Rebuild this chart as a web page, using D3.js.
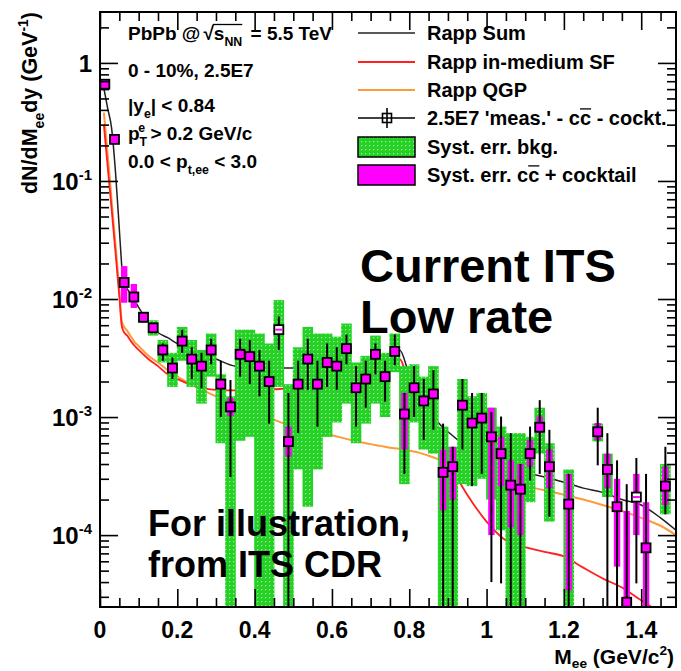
<!DOCTYPE html>
<html>
<head>
<meta charset="UTF-8" />
<style>
body { margin:0; background:#fff; }
text { font-family: "Liberation Sans", Arial, Helvetica, sans-serif; }
</style>
</head>
<body>
<script src="https://d3js.org/d3.v7.min.js" charset="utf-8"></script>
<script>
var width = 681;
var height = 671;

// measured points: bin centre, value, stat. error, bkg syst., cc+cocktail syst.
var mass = [0.0125,0.0375,0.0625,0.0875,0.1125,0.1375,0.1625,0.1875,0.2125,0.2375,
            0.2625,0.2875,0.3125,0.3375,0.3625,0.3875,0.4125,0.4375,0.4625,0.4875,
            0.5125,0.5375,0.5625,0.5875,0.6125,0.6375,0.6625,0.6875,0.7125,0.7375,
            0.7625,0.7875,0.8125,0.8375,0.8625,0.8875,0.9125,0.9375,0.9625,0.9875,
            1.0125,1.0375,1.0625,1.0875,1.1125,1.1375,1.1625,1.2125,1.2875,1.3125,
            1.3375,1.3625,1.3875,1.4125,1.4625];
var meas = [0.66,0.225,0.0138,0.0104,0.0070,0.0057,0.0037,0.0026,0.0044,0.0031,
            0.0027,0.0037,0.0019,0.00122,0.0034,0.00325,0.0027,0.0020,0.0055,0.00062,
            0.0019,0.0031,0.0019,0.0029,0.0027,0.0038,0.00177,0.0021,0.0034,0.0022,
            0.0036,0.00106,0.00177,0.00137,0.00157,0.00034,0.00038,0.00126,0.00089,0.00098,
            0.00068,0.00049,0.000265,0.000245,0.00049,0.00082,0.00038,0.000183,0.00075,0.00036,
            0.000174,0.000027,0.00021,0.000078,0.00026];
var statLo = [0.63,0.215,0.0128,0.0097,0.0065,0.0052,0.0030,0.0021,0.0035,0.0021,
              0.00175,0.0028,0.0010,0.00031,0.0022,0.0019,0.0015,0.00088,0.0037,0.00001,
              0.00073,0.0017,0.00083,0.0018,0.0017,0.0028,0.00083,0.0012,0.0023,0.00135,
              0.00275,0.00033,0.0010,0.00064,0.00078,0.00001,0.00001,0.00053,0.00026,0.00033,
              0.00004,0.000039,0.00001,0.00001,0.00029,0.00033,0.000143,0.00001,0.00039,0.00001,
              0.00001,0.00001,0.000039,0.00001,0.00015];
var statHi = [0.69,0.235,0.0148,0.0111,0.0075,0.0062,0.0042,0.0032,0.0055,0.0039,
              0.0035,0.0046,0.0030,0.00206,0.0046,0.0045,0.0037,0.0030,0.0071,0.0016,
              0.0030,0.0046,0.0030,0.0042,0.0039,0.0050,0.0027,0.0030,0.0042,0.0030,
              0.0050,0.0016,0.0027,0.0021,0.0025,0.00088,0.00056,0.0021,0.0016,0.0016,
              0.0011,0.00101,0.00073,0.00040,0.00083,0.00139,0.00078,0.00033,0.0012,0.00073,
              0.00043,0.00027,0.00045,0.00033,0.00056];
var bkgLo = [null,null,null,null,0.0063,0.0049,0.0029,0.0018,0.0030,0.0018,
             0.0013,0.0022,0.0006,0.00001,0.00063,0.00068,0.00001,0.00001,0.0018,0.00001,
             0.00036,0.000174,0.00036,0.00068,0.0009,0.0013,0.0006,0.00088,0.0013,0.0010,
             0.0024,0.00027,0.0009,0.00053,0.00049,0.00001,0.00001,0.00027,0.00026,0.0003,
             0.0002,0.00011,0.00001,0.00001,0.00019,0.00049,0.00013,0.00001,0.00062,0.00021,
             null,null,null,null,0.00015];
var bkgHi = [null,null,null,null,0.0078,0.0066,0.0045,0.0035,0.0058,0.0045,
             0.0037,0.0051,0.0023,0.0015,0.0055,0.0055,0.0051,0.0042,0.0098,0.0019,
             0.0039,0.0058,0.0051,0.0051,0.0048,0.0062,0.0029,0.0033,0.0049,0.0035,
             0.0051,0.0027,0.0028,0.0022,0.0027,0.00083,0.00056,0.0021,0.0015,0.0016,
             0.0012,0.00083,0.00073,0.00073,0.00068,0.0012,0.00060,0.00036,0.00088,0.00049,
             null,null,null,null,0.00040];
var sysLo = [null,null,0.0093,0.0084,null,null,null,null,null,null,
             null,null,null,0.00102,null,null,null,null,0.0054,0.00046,
             null,null,null,null,null,null,null,null,null,null,
             null,0.00053,null,null,null,0.000162,0.0002,null,null,null,
             0.0001,0.00026,0.000117,0.0001,0.00038,0.00073,0.00025,0.000034,0.00064,0.00025,
             0.000054,0.00001,0.0001,0.00001,0.00018];
var sysHi = [null,null,0.019,0.0134,null,null,null,null,null,null,
             null,null,null,0.00145,null,null,null,null,0.0056,0.00083,
             null,null,null,null,null,null,null,null,null,null,
             null,0.0016,null,null,null,0.00053,0.00056,null,null,null,
             0.0012,0.00068,0.00043,0.0004,0.00064,0.00101,0.00053,0.00033,0.00089,0.00049,
             0.0003,0.00016,0.00033,0.00019,0.00038];
var openMarker = [0.4625, 1.3875];

// Rapp model curves
var curveMass = [0.01,0.02,0.03,0.04,0.05,0.056,0.06,0.07,0.08,0.09,0.1,0.125,0.15,0.175,0.2,
                 0.25,0.3,0.35,0.4,0.45,0.5,0.55,0.6,0.65,0.7,0.725,0.75,0.775,0.8,0.825,
                 0.85,0.875,0.9,0.95,1.0,1.05,1.1,1.15,1.2,1.25,1.3,1.35,1.4,1.45,1.49];
var rappSum = [0.61,0.41,0.28,0.12,0.039,0.0195,0.0135,0.0122,0.011,0.0097,0.0085,0.0064,0.0052,0.0047,0.0042,
               0.0036,0.0031,0.0027,0.00265,0.0026,0.0026,0.0026,0.0026,0.0026,0.0027,0.0029,0.0033,0.0037,0.0023,0.0016,
               0.0012,0.0009,0.00075,0.00056,0.00045,0.00039,0.00034,0.00031,0.00028,0.00025,0.00023,0.0002,0.00018,0.00014,0.00011];
var rappSF = [0.3,0.13,0.058,0.025,0.0105,0.006,0.0054,0.0049,0.0044,0.0040,0.0037,0.0031,0.0027,0.0023,0.0021,
              0.0018,0.0017,0.00168,0.0017,0.00172,0.00176,0.0018,0.0019,0.002,0.0021,0.0023,0.0027,0.0031,0.0018,0.0011,
              0.00075,0.0006,0.00042,0.00022,0.00013,0.00009,0.000079,0.000072,0.000066,0.000053,0.000043,0.000036,0.000028,0.000022,0.000018];
var rappQGP = [0.38,0.166,0.069,0.029,0.012,0.0066,0.0060,0.0054,0.0048,0.0043,0.0040,0.0033,0.0029,0.0025,0.0022,
               0.0018,0.0015,0.0013,0.0011,0.00095,0.00083,0.00076,0.0007,0.00064,0.00059,0.00057,0.00055,0.00054,0.00052,0.0005,
               0.00047,0.00044,0.00041,0.00036,0.00032,0.00029,0.00026,0.00024,0.00022,0.0002,0.00018,0.00016,0.00014,0.00012,0.0001];

var xTicks = [0, 0.2, 0.4, 0.6, 0.8, 1, 1.2, 1.4];
var xTickLabels = ["0", "0.2", "0.4", "0.6", "0.8", "1", "1.2", "1.4"];
var yTicks = [1, 1e-1, 1e-2, 1e-3, 1e-4];
var yTickExp = [null, "-1", "-2", "-3", "-4"];

var svg = d3.select("body")
			.append("svg")
			.attr("width", width)
			.attr("height", height);

var x = d3.scaleLinear().domain([0, 1.49]).range([100, 676]);
var y = d3.scaleLog().domain([2.46e-5, 2.7]).range([607, 12]);

var defs = svg.append("defs");
defs.append("clipPath").attr("id", "frame")
	.append("rect").attr("x", 100).attr("y", 12).attr("width", 576).attr("height", 595);
var pat = defs.append("pattern").attr("id", "green").attr("width", 4).attr("height", 4)
	.attr("patternUnits", "userSpaceOnUse");
pat.append("rect").attr("width", 4).attr("height", 4).attr("fill", "#26d126");
pat.append("rect").attr("x", 1).attr("y", 1).attr("width", 1.2).attr("height", 1.2).attr("fill", "#a8f0a8");

var pts = mass.map(function(m, i){
	return {m: m, v: meas[i], sl: statLo[i], sh: statHi[i],
	        bl: bkgLo[i], bh: bkgHi[i], yl: sysLo[i], yh: sysHi[i],
	        open: openMarker.indexOf(m) >= 0};
});

var plot = svg.append("g").attr("clip-path", "url(#frame)");

// model curves (drawn under the data)
var curves = [
	{vals: rappQGP, color: "#ff9a3c", w: 2},
	{vals: rappSF, color: "#ff2020", w: 1.8},
	{vals: rappSum, color: "#202020", w: 1.5}
];
curves.forEach(function(c){
	var line = d3.line()
		.x((d, i) => x(curveMass[i]))
		.y(d => y(d))
		.curve(d3.curveMonotoneX);
	plot.append("path")
		.attr("d", line(c.vals))
		.attr("fill", "none")
		.attr("stroke", c.color)
		.attr("stroke-width", c.w);
});

// bkg systematic bands
plot.append("g").selectAll("rect")
	.data(pts.filter(d => d.bl !== null))
	.enter().append("rect")
	.attr("x", d => x(d.m) - 5.3)
	.attr("width", 10.6)
	.attr("y", d => y(d.bh))
	.attr("height", d => y(d.bl) - y(d.bh))
	.attr("fill", "url(#green)");

// cc + cocktail systematic bands
plot.append("g").selectAll("rect")
	.data(pts.filter(d => d.yl !== null))
	.enter().append("rect")
	.attr("x", d => x(d.m) - 3.2)
	.attr("width", 6.4)
	.attr("y", d => y(d.yh))
	.attr("height", d => Math.max(1.5, y(d.yl) - y(d.yh)))
	.attr("fill", "#ff00ff");

// statistical errors
plot.append("g").selectAll("line")
	.data(pts)
	.enter().append("line")
	.attr("x1", d => x(d.m)).attr("x2", d => x(d.m))
	.attr("y1", d => y(d.sl)).attr("y2", d => y(d.sh))
	.attr("stroke", "#000").attr("stroke-width", 2);

// markers
var mk = plot.append("g").selectAll("g")
	.data(pts)
	.enter().append("g")
	.attr("transform", d => "translate(" + x(d.m) + "," + y(d.v) + ")");
mk.append("rect")
	.attr("x", -4.5).attr("y", -4.5).attr("width", 9).attr("height", 9)
	.attr("fill", d => d.open ? "#fff" : "#ff00ff")
	.attr("stroke", "#000").attr("stroke-width", 1.8);
mk.filter(d => d.open).append("line")
	.attr("x1", -3.5).attr("x2", 3.5).attr("y1", 0).attr("y2", 0)
	.attr("stroke", "#ff00ff").attr("stroke-width", 2);

// frame and axes
svg.append("rect").attr("x", 100).attr("y", 12).attr("width", 576).attr("height", 595)
	.attr("fill", "none").attr("stroke", "#000").attr("stroke-width", 2);

var yMinor = y.ticks().filter(t => yTicks.indexOf(t) < 0);
var xMinor = d3.range(0, 1.49, 0.05).filter(t => Math.abs(t / 0.2 - Math.round(t / 0.2)) > 0.01);

function tickAxis(axis, pos, major, minor){
	svg.append("g").attr("transform", pos)
		.call(axis.tickValues(major).tickSize(-18).tickFormat(""))
		.call(g => g.select(".domain").remove());
	svg.append("g").attr("transform", pos)
		.call(axis.tickValues(minor).tickSize(-9).tickFormat(""))
		.call(g => g.select(".domain").remove());
}
tickAxis(d3.axisLeft(y), "translate(100,0)", yTicks, yMinor);
tickAxis(d3.axisRight(y), "translate(676,0)", yTicks, yMinor);
tickAxis(d3.axisBottom(x), "translate(0,607)", xTicks, xMinor);
tickAxis(d3.axisTop(x), "translate(0,12)", xTicks, xMinor);
svg.selectAll(".tick line").attr("stroke", "#000").attr("stroke-width", 1.6);

// tick labels
xTicks.forEach(function(t, i){
	svg.append("text").attr("x", x(t)).attr("y", 638)
		.attr("text-anchor", "middle").attr("font-size", 23).attr("font-weight", "bold")
		.text(xTickLabels[i]);
});
yTicks.forEach(function(t, i){
	var tx = svg.append("text").attr("x", 92).attr("y", y(t) + 9)
		.attr("text-anchor", "end").attr("font-size", 24).attr("font-weight", "bold");
	if (yTickExp[i] === null) { tx.text("1"); return; }
	tx.append("tspan").text("10");
	tx.append("tspan").attr("dy", -10).attr("font-size", 15).text(yTickExp[i]);
});

// rich text helper: segments with sub / sup / overline
function rich(xp, yp, segs, size, weight, anchor, parent){
	var t = (parent || svg).append("text").attr("x", xp).attr("y", yp)
		.attr("font-size", size).attr("font-weight", weight || "bold")
		.attr("text-anchor", anchor || "start");
	var base = 0, idx = 0, overs = [];
	segs.forEach(function(s){
		var shift = s.shift !== undefined ? s.shift : s.sub ? size * 0.32 : s.sup ? -size * 0.42 : 0;
		var ts = t.append("tspan").text(s.t).attr("dy", shift - base);
		base = shift;
		if (s.sub || s.sup) ts.attr("font-size", size * 0.65);
		if (s.dx) ts.attr("dx", s.dx);
		if (s.over) overs.push([idx, idx + s.t.length - 1]);
		if (s.root) overs.rootIdx = idx;
		idx += s.t.length;
	});
	var n = t.node();
	if (overs.length) {
		var x0 = Infinity, x1 = -Infinity;
		overs.forEach(function(r){
			for (var k = r[0]; k <= r[1]; k++) {
				var e = n.getExtentOfChar(k);
				x0 = Math.min(x0, e.x); x1 = Math.max(x1, e.x + e.width);
			}
		});
		var lineY = yp - size * 0.78;
		if (overs.rootIdx !== undefined) {
			var re = n.getExtentOfChar(overs.rootIdx);
			x0 = re.x + re.width - 1;
			lineY = re.y + 1.5;
		}
		(parent || svg).append("line").attr("x1", x0).attr("x2", x1)
			.attr("y1", lineY).attr("y2", lineY)
			.attr("stroke", "#000").attr("stroke-width", 1.3);
	}
	return t;
}

// axis titles
rich(674, 664, [{t: "M"}, {t: "ee", sub: true, shift: 4}, {t: " (GeV/c"}, {t: "2", sup: true}, {t: ")"}], 21, "bold", "end");
var yt = svg.append("g").attr("transform", "translate(37,12) rotate(-90)");
rich(0, 0, [{t: "dN/dM"}, {t: "ee", sub: true}, {t: "dy (GeV"}, {t: "-1", sup: true}, {t: ")"}], 21.5, "bold", "end", yt);

// header text
var hs = 19;
rich(128, 40, [{t: "PbPb @"}, {t: "\u221A", root: true, dx: 3}, {t: "s", over: true}, {t: "NN", sub: true, over: true}, {t: " = 5.5 TeV", dx: 3}], hs);
rich(128, 77, [{t: "0 - 10%, 2.5E7"}], hs);
rich(128, 112, [{t: "|y"}, {t: "e", sub: true}, {t: "| < 0.84"}], hs);
rich(128, 140, [{t: "p"}, {t: "T", sub: true}, {t: "e", sup: true, dx: -8}, {t: " > 0.2 GeV/c"}], hs);
rich(128, 168, [{t: "0.0 < p"}, {t: "t,ee", sub: true}, {t: " < 3.0"}], hs);

// legend
var legendNames = [
	[{t: "Rapp Sum"}],
	[{t: "Rapp in-medium SF"}],
	[{t: "Rapp QGP"}],
	[{t: "2.5E7 'meas.' - c"}, {t: "c", over: true}, {t: " - cockt."}],
	[{t: "Syst. err. bkg."}],
	[{t: "Syst. err. c"}, {t: "c", over: true}, {t: " + cocktail"}]
];
var legY = [33, 62, 90, 118, 147, 175];
legendNames.forEach(function(segs, i){
	rich(427, legY[i] + 6.5, segs, 20, "bold");
});
[["#202020", 1.5], ["#ff2020", 1.8], ["#ff9a3c", 2]].forEach(function(c, i){
	svg.append("line").attr("x1", 358).attr("x2", 415).attr("y1", legY[i]).attr("y2", legY[i])
		.attr("stroke", c[0]).attr("stroke-width", c[1]);
});
svg.append("line").attr("x1", 358).attr("x2", 415).attr("y1", legY[3]).attr("y2", legY[3])
	.attr("stroke", "#000").attr("stroke-width", 1.6);
svg.append("line").attr("x1", 387).attr("x2", 387).attr("y1", legY[3] - 10).attr("y2", legY[3] + 10)
	.attr("stroke", "#000").attr("stroke-width", 1.6);
svg.append("rect").attr("x", 382.5).attr("y", legY[3] - 4.5).attr("width", 9).attr("height", 9)
	.attr("fill", "none").attr("stroke", "#000").attr("stroke-width", 1.6);
svg.append("rect").attr("x", 358).attr("y", legY[4] - 10).attr("width", 57).attr("height", 20)
	.attr("fill", "url(#green)").attr("stroke", "#000").attr("stroke-width", 1.5);
svg.append("rect").attr("x", 358).attr("y", legY[5] - 10).attr("width", 57).attr("height", 20)
	.attr("fill", "#ff00ff").attr("stroke", "#000").attr("stroke-width", 1.5);

// annotations
svg.append("text").attr("x", 360).attr("y", 282).attr("font-size", 47).attr("font-weight", "bold").text("Current ITS");
svg.append("text").attr("x", 360).attr("y", 333).attr("font-size", 47).attr("font-weight", "bold").text("Low rate");
svg.append("text").attr("x", 148).attr("y", 536).attr("font-size", 36).attr("font-weight", "bold").text("For illustration,");
svg.append("text").attr("x", 148).attr("y", 577).attr("font-size", 36).attr("font-weight", "bold").text("from ITS CDR");
</script>
</body>
</html>
